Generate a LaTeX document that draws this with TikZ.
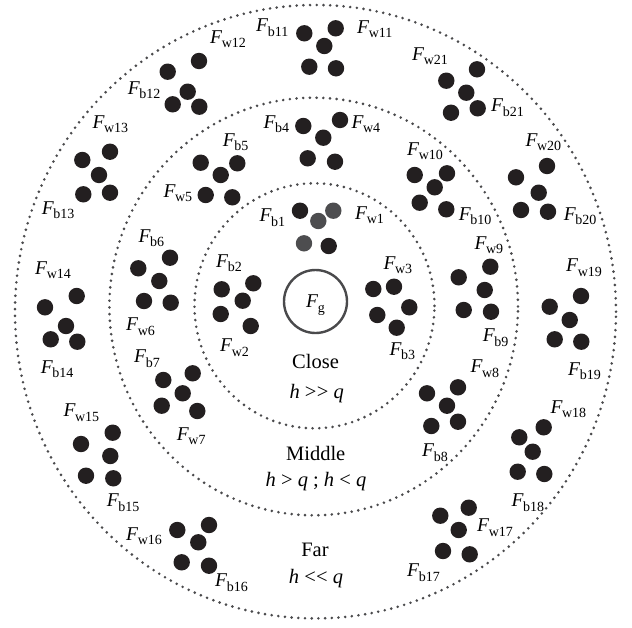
\documentclass[tikz,border=0pt]{standalone}
\usepackage{fontspec}
\setmainfont{Liberation Serif}
\definecolor{dotblack}{HTML}{231F20}
\definecolor{dotgrey}{HTML}{4D4D4F}
\definecolor{linegrey}{HTML}{4A4A4C}
\newcommand{\Flab}[1]{\textit{F}\kern-0.5pt\raisebox{-4.5pt}{\fontsize{14}{14}\selectfont #1}}
\newcommand{\clust}[2]{\foreach \px/\py [count=\i] in {#2} \node[blackdot] (#1-\i) at (\px,\py) {};}
\tikzset{
  blackdot/.style={circle, fill=dotblack, draw=none, inner sep=0pt, minimum size=16.4pt},
  greydot/.style={circle, fill=dotgrey, draw=none, inner sep=0pt, minimum size=16.4pt},
  zone/.style={draw=linegrey, line width=2.9pt, dash pattern=on 0pt off 6.7pt, line cap=round},
  flabel/.style={anchor=base west, inner sep=0pt, font=\fontsize{19.5}{22}\selectfont},
  rlabel/.style={anchor=base, inner sep=0pt, font=\fontsize{20.5}{24}\selectfont},
}
\begin{document}
\begin{tikzpicture}[x=1pt,y=-1pt]
\useasboundingbox (0,0) rectangle (632,627);
% zones
\coordinate (cc) at (314.5,305.8);
\coordinate (cm) at (313.7,306.5);
\coordinate (co) at (315.5,311.7);
\draw[zone] (cc) ellipse [x radius=120pt, y radius=122.5pt];
\draw[zone] (cm) ellipse [x radius=204.3pt, y radius=208.8pt];
\draw[zone] (co) ellipse [x radius=300.5pt, y radius=306.7pt];
% Fg
\node[circle, draw=linegrey, line width=2.4pt, minimum size=63pt, inner sep=0pt] (fg) at (315.5,301.5) {};
\node[flabel] (fglab) at (306,307.5) {\Flab{g}};
% clusters
\node[blackdot] (c1-1) at (300,210.7) {};
\node[greydot] (c1-2) at (333.3,210.7) {};
\node[greydot] (c1-3) at (318.3,221) {};
\node[greydot] (c1-4) at (304,243.3) {};
\node[blackdot] (c1-5) at (328.7,246) {};
\clust{c2}{221.7/289.3,253.3/283.3,242.7/300.7,220.7/314,250.7/326}
\clust{c3}{373.3/289,394/286.7,409.3/307.3,377.3/315,396.7/327.7}
\clust{c4}{303.3/126,340/120,323.3/137.7,307.7/158.3,335/161.7}
\clust{c5}{200.7/162.7,237.3/163.3,220.7/175,205.7/195,232.3/197.3}
\clust{c6}{138.3/268.3,170/257.7,159.3/281,144/301,170.7/302.7}
\clust{c7}{163.3/380,192.7/373.3,182.7/393.3,161.7/405.7,197.3/411}
\clust{c8}{427/393.3,458/387.3,447/405.7,431.3/426,458/421.7}
\clust{c9}{458.7/277.3,490.3/266.7,484.7/290,463.7/310,491/311.7}
\clust{c10}{414.7/175,447/173.3,434.7/187.3,419.7/202.7,446.3/209.3}
\clust{c11}{304.3/33.3,335.7/28.3,324.3/46,309.3/66.7,336/68.3}
\clust{c12}{167.7/71.7,199/61,187.7/91.7,172.7/104.3,199.3/106.7}
\clust{c13}{82.3/160,110/151.7,99/175,83.3/194.3,110/192.7}
\clust{c14}{45/307.3,76.7/296,66/326,50.7/339.3,77.3/341.7}
\clust{c15}{81/444,112.7/432.7,110.3/456,86/475.7,113.3/478.3}
\clust{c16}{177.3/530,209/525,198.3/542.3,181.7/562.3,209/565.7}
\clust{c17}{440.3/515.7,468.7/507.7,458.7/530,443/551,469.7/554.3}
\clust{c18}{519.3/437.3,543.7/427.3,532.7/451.7,517.7/471.7,544.3/474}
\clust{c19}{549.7/306.7,581/296,569.7/320,554.7/339.3,581.3/341.7}
\clust{c20}{516/177.3,547/166,538.7/192.7,521/210,548/211.7}
\clust{c21}{446.3/80.7,477/69.3,466.3/92.7,451/112.7,477.7/108.3}
% labels
\node[flabel] (lb1) at (259.3,221.7) {\Flab{b1}};
\node[flabel] (lw1) at (355,219.3) {\Flab{w1}};
\node[flabel] (lb2) at (216,267.3) {\Flab{b2}};
\node[flabel] (lw2) at (220,351.7) {\Flab{w2}};
\node[flabel] (lw3) at (383.3,269.3) {\Flab{w3}};
\node[flabel] (lb3) at (389.3,355) {\Flab{b3}};
\node[flabel] (lb4) at (263.3,128.3) {\Flab{b4}};
\node[flabel] (lw4) at (351.3,128.3) {\Flab{w4}};
\node[flabel] (lb5) at (222.7,146) {\Flab{b5}};
\node[flabel] (lw5) at (163.3,197.3) {\Flab{w5}};
\node[flabel] (lb6) at (138.3,242.3) {\Flab{b6}};
\node[flabel] (lw6) at (126,330.7) {\Flab{w6}};
\node[flabel] (lb7) at (134,362.7) {\Flab{b7}};
\node[flabel] (lw7) at (176.7,440) {\Flab{w7}};
\node[flabel] (lw8) at (470.3,372.7) {\Flab{w8}};
\node[flabel] (lb8) at (422,456.7) {\Flab{b8}};
\node[flabel] (lw9) at (474.3,249) {\Flab{w9}};
\node[flabel] (lb9) at (482.7,341.7) {\Flab{b9}};
\node[flabel] (lw10) at (407,155) {\Flab{w10}};
\node[flabel] (lb10) at (458.7,220) {\Flab{b10}};
\node[flabel] (lb11) at (256,31.7) {\Flab{b11}};
\node[flabel] (lw11) at (357,33.3) {\Flab{w11}};
\node[flabel] (lw12) at (210,43.3) {\Flab{w12}};
\node[flabel] (lb12) at (127.7,94.3) {\Flab{b12}};
\node[flabel] (lw13) at (92.3,128.3) {\Flab{w13}};
\node[flabel] (lb13) at (41.7,214) {\Flab{b13}};
\node[flabel] (lw14) at (35,274.3) {\Flab{w14}};
\node[flabel] (lb14) at (40.7,373.3) {\Flab{b14}};
\node[flabel] (lw15) at (63.3,416.7) {\Flab{w15}};
\node[flabel] (lb15) at (106.7,506.7) {\Flab{b15}};
\node[flabel] (lw16) at (126,540) {\Flab{w16}};
\node[flabel] (lb16) at (215,586.7) {\Flab{b16}};
\node[flabel] (lw17) at (477,531.7) {\Flab{w17}};
\node[flabel] (lb17) at (407,576.7) {\Flab{b17}};
\node[flabel] (lw18) at (550.3,413.3) {\Flab{w18}};
\node[flabel] (lb18) at (511.3,506.7) {\Flab{b18}};
\node[flabel] (lw19) at (566,271.7) {\Flab{w19}};
\node[flabel] (lb19) at (568,375) {\Flab{b19}};
\node[flabel] (lw20) at (525.3,146) {\Flab{w20}};
\node[flabel] (lb20) at (563.7,220) {\Flab{b20}};
\node[flabel] (lw21) at (412,60) {\Flab{w21}};
\node[flabel] (lb21) at (491,111.7) {\Flab{b21}};
% region labels
\node[rlabel] (close) at (315.5,368.3) {Close};
\node[rlabel] (closeh) at (316.7,398.3) {\textit{h} >\kern0.3pt> \textit{q}};
\node[rlabel] (middle) at (315.7,460) {Middle};
\node[rlabel] (middleh) at (316,486.7) {\textit{h} > \textit{q} ; \textit{h} < \textit{q}};
\node[rlabel] (far) at (315,556.7) {Far};
\node[rlabel] (farh) at (316,583.3) {\textit{h} <\kern0.3pt< \textit{q}};
\end{tikzpicture}
\end{document}
